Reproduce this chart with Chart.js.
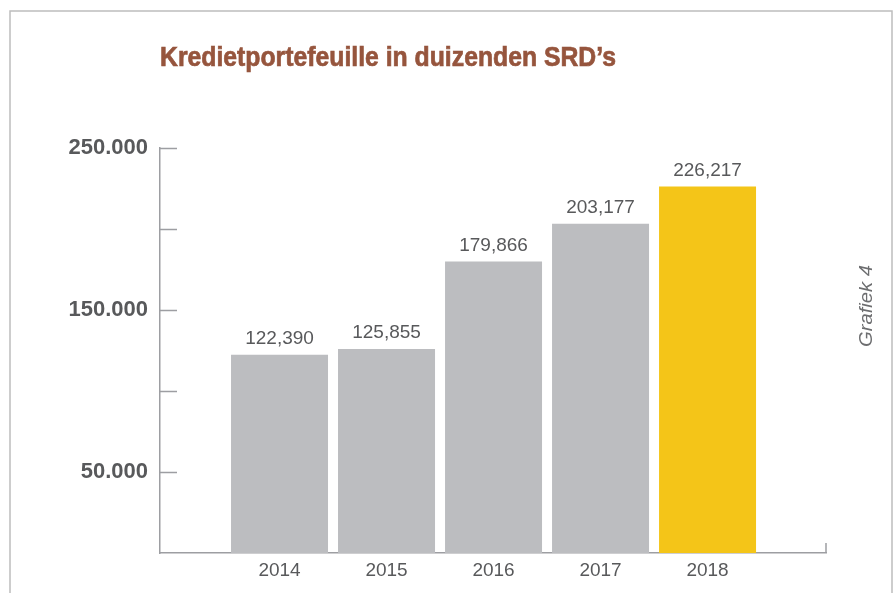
<!DOCTYPE html>
<html>
<head>
<meta charset="utf-8">
<script src="https://cdn.jsdelivr.net/npm/chart.js@4/dist/chart.umd.min.js"></script>
<style>
  html, body { margin: 0; padding: 0; background: #ffffff; }
  #wrap { position: relative; width: 895px; height: 593px; overflow: hidden; }
  canvas { display: block; }
</style>
</head>
<body>
<div id="wrap"><canvas id="c" width="895" height="593"></canvas></div>
<script>
// ---- data ----
const years = [2014, 2015, 2016, 2017, 2018];
const credit = [122390, 125855, 179866, 203177, 226217];
const barColors = ['#bcbdc0', '#bcbdc0', '#bcbdc0', '#bcbdc0', '#f4c518'];
const yTickValues = [50000, 150000, 250000];
const yTickLabels = ['50.000', '150.000', '250.000'];
const titleText = 'Kredietportefeuille in duizenden SRD\u2019s';
const sideText = 'Grafiek 4';

const TEXT_GRAY = '#58595b';
const AXIS_GRAY = '#9d9ea2';

const decorations = {
  id: 'decorations',
  beforeDraw(chart) {
    const ctx = chart.ctx;
    ctx.save();
    // frame
    ctx.strokeStyle = '#bdbdbd';
    ctx.lineWidth = 1.5;
    ctx.strokeRect(10, 11, 882, 700);
    // title (condensed look via horizontal scaling)
    ctx.fillStyle = '#96553d';
    ctx.strokeStyle = '#96553d';
    ctx.lineWidth = 0.7;
    ctx.font = 'bold 28px "Liberation Sans", Arial, sans-serif';
    ctx.textAlign = 'left';
    ctx.textBaseline = 'alphabetic';
    const w = ctx.measureText(titleText).width;
    const sx = 456 / w;
    ctx.save();
    ctx.translate(160, 66);
    ctx.scale(sx, 1);
    ctx.fillText(titleText, 0, 0);
    ctx.strokeText(titleText, 0, 0);
    ctx.restore();
    // side label
    ctx.translate(872, 347);
    ctx.rotate(-Math.PI / 2);
    ctx.fillStyle = '#6d6e70';
    ctx.font = 'italic 19px "Liberation Sans", Arial, sans-serif';
    const w2 = ctx.measureText(sideText).width;
    ctx.scale(82 / w2, 1);
    ctx.fillText(sideText, 0, 0);
    ctx.restore();
  },
  afterDraw(chart) {
    const ctx = chart.ctx;
    const y = chart.scales.y, x = chart.scales.x;
    ctx.save();
    ctx.strokeStyle = AXIS_GRAY;
    ctx.lineWidth = 1.5;
    ctx.beginPath();
    // inward tick marks on y axis
    y.ticks.forEach(t => {
      if (t.value === 0) return;
      const py = Math.round(y.getPixelForValue(t.value)) + 0.5;
      ctx.moveTo(x.left, py);
      ctx.lineTo(x.left + 17, py);
    });
    // closing tick at right end of x axis
    ctx.moveTo(x.right, y.bottom);
    ctx.lineTo(x.right, y.bottom - 10);
    ctx.stroke();
    ctx.restore();
  },
  afterDatasetsDraw(chart) {
    const ctx = chart.ctx;
    const meta = chart.getDatasetMeta(0);
    ctx.save();
    ctx.fillStyle = TEXT_GRAY;
    ctx.font = '19px "Liberation Sans", Arial, sans-serif';
    ctx.textAlign = 'center';
    ctx.textBaseline = 'alphabetic';
    meta.data.forEach((bar, i) => {
      ctx.fillText(credit[i].toLocaleString('en-US'), bar.x, bar.y - 11);
    });
    ctx.restore();
  }
};

new Chart(document.getElementById('c'), {
  type: 'bar',
  data: {
    datasets: [{
      data: years.map((yr, i) => ({ x: yr, y: credit[i] })),
      backgroundColor: barColors,
      borderWidth: 0,
      categoryPercentage: 1,
      barPercentage: 0.9065
    }]
  },
  options: {
    responsive: false,
    animation: false,
    devicePixelRatio: 1,
    layout: { padding: { top: 148, right: 69, bottom: 0, left: 0 } },
    plugins: { legend: { display: false }, tooltip: { enabled: false }, title: { display: false } },
    scales: {
      x: {
        type: 'linear',
        offset: false,
        min: 2012.883,
        max: 2019.107,
        afterBuildTicks: s => { s.ticks = years.map(v => ({ value: v })); },
        afterFit: s => { s.height = 40; },
        grid: { display: false, drawTicks: false, offset: false },
        border: { display: true, color: AXIS_GRAY, width: 1.5 },
        ticks: {
          callback: v => String(v),
          color: TEXT_GRAY,
          font: { family: '"Liberation Sans", Arial, sans-serif', size: 19 },
          padding: 6,
          maxRotation: 0,
          autoSkip: false
        }
      },
      y: {
        min: 0,
        max: 250000,
        afterFit: s => { s.width = 160; },
        grid: { display: false, drawTicks: false },
        border: { display: true, color: AXIS_GRAY, width: 1.5 },
        ticks: {
          stepSize: 50000,
          padding: 12,
          color: TEXT_GRAY,
          font: { family: '"Liberation Sans", Arial, sans-serif', size: 22, weight: 'bold' },
          callback: v => {
            const i = yTickValues.indexOf(v);
            return i >= 0 ? yTickLabels[i] : '';
          }
        }
      }
    }
  },
  plugins: [decorations]
});
</script>
</body>
</html>
